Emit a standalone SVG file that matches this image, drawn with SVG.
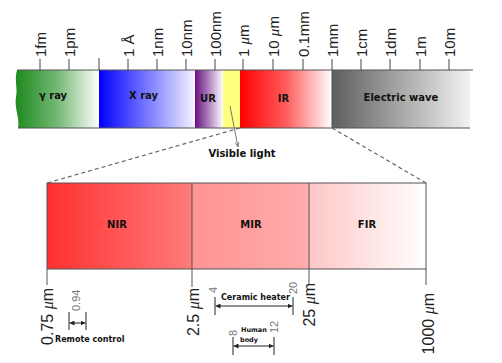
<svg xmlns="http://www.w3.org/2000/svg" width="502" height="363" viewBox="0 0 502 363">
<style>
.tick{stroke:#444;stroke-width:1}
.edge{stroke:#555;stroke-width:1;fill:none}
.lbl{font-family:"Liberation Sans",Arial,sans-serif;font-size:15px;fill:#222}
.lbl2{font-family:"Liberation Sans",Arial,sans-serif;font-size:16px;fill:#222}
.mu{font-family:"Liberation Serif",serif;font-style:italic}
.band{font-family:"DejaVu Sans",Verdana,sans-serif;font-size:10px;font-weight:bold;fill:#111;text-anchor:middle}
.small{font-family:"DejaVu Sans",Verdana,sans-serif;font-size:8px;font-weight:bold;fill:#111}
.tiny{font-family:"DejaVu Sans",Verdana,sans-serif;font-size:6.5px;font-weight:bold;fill:#111}
.num{font-family:"Liberation Sans",Arial,sans-serif;font-size:11px;fill:#777}
.dash{stroke:#666;stroke-width:1.2;stroke-dasharray:4,3;fill:none}
.dim{stroke:#222;stroke-width:1;fill:none}
</style>
<defs>
<linearGradient id="gGamma" x1="0" x2="1" y1="0" y2="0"><stop offset="0" stop-color="#1e8a1e"/><stop offset="0.5" stop-color="#74b874"/><stop offset="1" stop-color="#ffffff"/></linearGradient>
<linearGradient id="gX" x1="0" x2="1" y1="0" y2="0"><stop offset="0" stop-color="#0000ff"/><stop offset="0.5" stop-color="#7878ff"/><stop offset="1" stop-color="#f4f4ff"/></linearGradient>
<linearGradient id="gUR" x1="0" x2="1" y1="0" y2="0"><stop offset="0" stop-color="#6a0f82"/><stop offset="0.45" stop-color="#a878b8"/><stop offset="1" stop-color="#ffffff"/></linearGradient>
<linearGradient id="gIR" x1="0" x2="1" y1="0" y2="0"><stop offset="0" stop-color="#ff0000"/><stop offset="0.5" stop-color="#ff5c5c"/><stop offset="1" stop-color="#ffffff"/></linearGradient>
<linearGradient id="gEW" x1="0" x2="1" y1="0" y2="0"><stop offset="0" stop-color="#5e5e5e"/><stop offset="1" stop-color="#f2f2f2"/></linearGradient>
<linearGradient id="gNIR" x1="0" x2="1" y1="0" y2="0"><stop offset="0" stop-color="#ff3030"/><stop offset="1" stop-color="#ff7b7b"/></linearGradient>
<linearGradient id="gMIR" x1="0" x2="1" y1="0" y2="0"><stop offset="0" stop-color="#ff9393"/><stop offset="1" stop-color="#ffadad"/></linearGradient>
<linearGradient id="gFIR" x1="0" x2="1" y1="0" y2="0"><stop offset="0" stop-color="#ffc6c6"/><stop offset="1" stop-color="#ffffff"/></linearGradient>
<marker id="ah" viewBox="0 0 10 10" refX="10" refY="5" markerWidth="5" markerHeight="5" orient="auto-start-reverse"><path d="M0,0 L10,5 L0,10 z" fill="#222"/></marker>
<marker id="ahg" viewBox="0 0 10 10" refX="10" refY="5" markerWidth="5" markerHeight="5" orient="auto"><path d="M0,1 L10,5 L0,9" fill="none" stroke="#777" stroke-width="1.5"/></marker>
</defs>
<rect width="502" height="363" fill="#ffffff"/>

<!-- scale ticks and labels -->
<g id="scale">
<g class="tick">
<line x1="40" y1="59" x2="40" y2="70"/><line x1="69" y1="59" x2="69" y2="70"/><line x1="99" y1="58" x2="99" y2="70"/>
<line x1="128" y1="59" x2="128" y2="70"/><line x1="157" y1="59" x2="157" y2="70"/><line x1="186" y1="59" x2="186" y2="70"/>
<line x1="215" y1="59" x2="215" y2="70"/><line x1="243" y1="59" x2="243" y2="70"/><line x1="273" y1="59" x2="273" y2="70"/>
<line x1="303" y1="59" x2="303" y2="70"/><line x1="332" y1="59" x2="332" y2="70"/><line x1="361" y1="59" x2="361" y2="70"/>
<line x1="390" y1="59" x2="390" y2="70"/><line x1="420" y1="59" x2="420" y2="70"/><line x1="449" y1="59" x2="449" y2="70"/>
</g>
<text class="lbl" transform="translate(45.5,57) rotate(-90)">1fm</text>
<text class="lbl" transform="translate(74.5,57) rotate(-90)">1pm</text>
<text class="lbl" transform="translate(133.5,57) rotate(-90)">1 Å</text>
<text class="lbl" transform="translate(162.5,57) rotate(-90)">1nm</text>
<text class="lbl" transform="translate(191.5,57) rotate(-90)">10nm</text>
<text class="lbl" transform="translate(220.5,57) rotate(-90)">100nm</text>
<text class="lbl" transform="translate(248.5,57) rotate(-90)">1 <tspan class="mu">μ</tspan>m</text>
<text class="lbl" transform="translate(278.5,57) rotate(-90)">10 <tspan class="mu">μ</tspan>m</text>
<text class="lbl" transform="translate(308.5,57) rotate(-90)">0.1mm</text>
<text class="lbl" transform="translate(337.5,57) rotate(-90)">1mm</text>
<text class="lbl" transform="translate(366.5,57) rotate(-90)">1cm</text>
<text class="lbl" transform="translate(395.5,57) rotate(-90)">1dm</text>
<text class="lbl" transform="translate(425.5,57) rotate(-90)">1m</text>
<text class="lbl" transform="translate(454.5,57) rotate(-90)">10m</text>
</g>

<g id="gamma">
<path d="M17,70 L99,70 L99,128 L18,128 C20,118 14,108 16,97 C18,88 14,80 17,70 Z" fill="url(#gGamma)"/>
<text class="band" x="53" y="99">γ ray</text>
</g>
<g id="xray">
<rect x="99" y="70" width="96" height="58" fill="url(#gX)"/>
<text class="band" x="143.5" y="99">X ray</text>
</g>
<g id="ur">
<rect x="195" y="70" width="28" height="58" fill="url(#gUR)"/>
<text class="band" x="208" y="102">UR</text>
</g>
<g id="visible">
<rect x="223" y="70" width="17" height="58" fill="#ffff80"/>
<text class="band" x="242" y="157">Visible light</text>
</g>
<g id="ir">
<rect x="240" y="70" width="92" height="58" fill="url(#gIR)"/>
<text class="band" x="283.5" y="102">IR</text>
</g>
<g id="electric">
<rect x="332" y="70" width="138" height="58" fill="url(#gEW)"/>
<text class="band" x="401" y="101">Electric wave</text>
</g>
<g id="bar-edges" class="edge">
<line x1="17" y1="70" x2="473" y2="70"/>
<line x1="18" y1="128" x2="470" y2="128"/>
<line x1="332" y1="70" x2="332" y2="128"/>
</g>

<!-- expanded IR box -->
<g id="nir">
<rect x="47" y="183" width="145" height="86" fill="url(#gNIR)"/>
<text class="band" x="117" y="228">NIR</text>
</g>
<g id="mir">
<rect x="192" y="183" width="117" height="86" fill="url(#gMIR)"/>
<text class="band" x="251" y="228">MIR</text>
</g>
<g id="fir">
<rect x="309" y="183" width="117" height="86" fill="url(#gFIR)"/>
<text class="band" x="367" y="228">FIR</text>
</g>
<g id="box-edges" class="edge">
<rect x="47" y="183" width="379" height="86"/>
<line x1="47" y1="269" x2="47" y2="285"/>
<line x1="192" y1="183" x2="192" y2="287"/>
<line x1="309" y1="183" x2="309" y2="285"/>
<line x1="426" y1="269" x2="426" y2="285"/>
</g>
<g id="box-scale">
<text class="lbl2" text-anchor="end" transform="translate(53,288) rotate(-90)">0.75 <tspan class="mu">μ</tspan>m</text>
<text class="lbl2" text-anchor="end" transform="translate(198.5,288) rotate(-90)">2.5 <tspan class="mu">μ</tspan>m</text>
<text class="lbl2" text-anchor="end" transform="translate(315,283) rotate(-90)">25 <tspan class="mu">μ</tspan>m</text>
<text class="lbl2" text-anchor="end" transform="translate(434,293) rotate(-90)">1000 <tspan class="mu">μ</tspan>m</text>
</g>

<g id="remote">
<text class="num" transform="translate(80,311) rotate(-90)">0.94</text>
<text class="small" x="55" y="342">Remote control</text>
</g>
<g id="ceramic">
<text class="num" transform="translate(217,293) rotate(-90)">4</text>
<text class="num" transform="translate(297,294) rotate(-90)">20</text>
<text class="small" x="221" y="300">Ceramic heater</text>
</g>
<g id="human">
<text class="num" transform="translate(237,336) rotate(-90)">8</text>
<text class="num" transform="translate(278,333) rotate(-90)">12</text>
<text class="tiny" x="241" y="332">Human</text>
<text class="tiny" x="240" y="342">body</text>
</g>

<g id="connectors">
<line class="dash" x1="240" y1="128" x2="47" y2="183"/>
<line class="dash" x1="332" y1="128" x2="426" y2="183"/>
<line x1="230" y1="106" x2="238" y2="147" stroke="#777" stroke-width="1" marker-end="url(#ahg)"/>
<g class="dim">
<line x1="69" y1="312" x2="69" y2="330"/><line x1="86" y1="312" x2="86" y2="330"/>
<line x1="69.5" y1="323" x2="85.5" y2="323" marker-start="url(#ah)" marker-end="url(#ah)"/>
<line x1="215" y1="297" x2="215" y2="315"/><line x1="293" y1="297" x2="293" y2="315"/>
<line x1="215.5" y1="306" x2="292.5" y2="306" marker-start="url(#ah)" marker-end="url(#ah)"/>
<line x1="233" y1="337" x2="233" y2="355"/><line x1="274" y1="337" x2="274" y2="355"/>
<line x1="233.5" y1="346" x2="273.5" y2="346" marker-start="url(#ah)" marker-end="url(#ah)"/>
</g>
</g>
</svg>
